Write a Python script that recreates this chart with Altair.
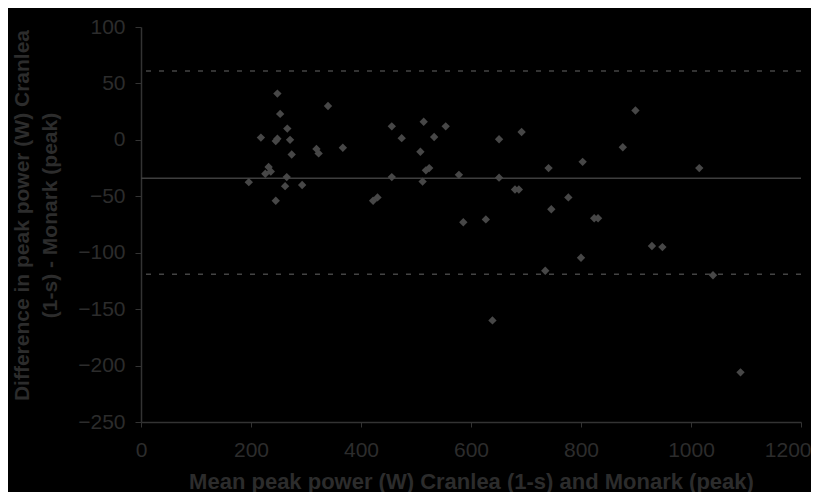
import altair as alt
import pandas as pd

mean_power = [196, 218, 226, 232, 236, 245, 245, 248, 248, 253, 262, 265, 266, 271, 274,
              293, 319, 323, 340, 367, 422, 430, 456, 456, 474, 508, 512, 514, 518, 524,
              533, 554, 578, 586, 627, 639, 651, 651, 680, 687, 692, 735, 741, 746, 777,
              800, 803, 824, 831, 876, 899, 929, 948, 1015, 1040, 1090]
difference = [-37.5, 2, -30, -24, -28, -54, -1, 1, 41, 23, -41, -33, 10, 0, -13,
              -40, -8, -12, 30, -7, -54, -51, 12, -33, 1.5, -10.5, -37, 16, -27, -25,
              2.5, 12, -31, -73, -70.5, -160, 0.5, -33.5, -44, -44, 7, -116, -25, -61.5, -51,
              -104.5, -19.5, -69.5, -69.5, -6.5, 26, -94, -95, -25, -120, -206]

line_names = ["upper", "mean", "lower"]
line_values = [61, -34, -119]

x_ticks = [0, 200, 400, 600, 800, 1000, 1200]
y_ticks = [100, 50, 0, -50, -100, -150, -200, -250]

pts = pd.DataFrame({"x": mean_power, "y": difference})
lines = pd.DataFrame({"name": line_names, "y": line_values})

txt = "#2c2c2c"
font = "Liberation Sans"

x_enc = alt.X("x:Q", scale=alt.Scale(domain=[0, 1200], nice=False),
              axis=alt.Axis(values=x_ticks, format="d",
                            labelAlign={"condition": {"test": "datum.value == 1200", "value": "right"}, "value": "center"},
                            labelOffset={"condition": {"test": "datum.value == 1200", "value": 10}, "value": 0},
                            title="Mean peak power (W) Cranlea (1-s) and Monark (peak)",
                            grid=False, labelFontSize=21, titleFontSize=22, titleFontWeight="bold",
                            labelPadding=12, titlePadding=11, tickSize=5, labelFlush=False))
y_scale = alt.Scale(domain=[-250, 100], nice=False)
y_enc = alt.Y("y:Q", scale=y_scale,
              axis=alt.Axis(values=y_ticks, title=["Difference in peak power (W) Cranlea", "(1-s) - Monark (peak)"],
                            grid=False, labelFontSize=21, titleFontSize=21, titleFontWeight="bold",
                            labelPadding=10, tickSize=6, titleX=-119, titleY=188, titleLineHeight=28,
                            titleAlign="center", titleBaseline="middle"))

points = alt.Chart(pts).mark_point(shape="diamond", filled=True, size=70, color="#474747", opacity=1).encode(
    x=x_enc, y=y_enc)

limits = alt.Chart(lines[lines.name != "mean"]).mark_rule(color="#444444", strokeWidth=1.5, strokeDash=[5, 8]).encode(
    y=alt.Y("y:Q", scale=y_scale))
mean = alt.Chart(lines[lines.name == "mean"]).mark_rule(color="#3e3e3e", strokeWidth=1.5).encode(
    y=alt.Y("y:Q", scale=y_scale))

chart = alt.layer(limits, mean, points).properties(
    width=660, height=395,
    background="#000000",
    autosize=alt.AutoSizeParams(type="none"),
    padding={"left": 133, "top": 19, "right": 10, "bottom": 70},
).configure_view(stroke=None).configure_axis(
    labelColor=txt, titleColor=txt, domainColor="#333333", tickColor="#333333",
    labelFont=font, titleFont=font, domainWidth=1.5
)

chart.save("out.html", embed_options={"renderer": "svg", "actions": False})
